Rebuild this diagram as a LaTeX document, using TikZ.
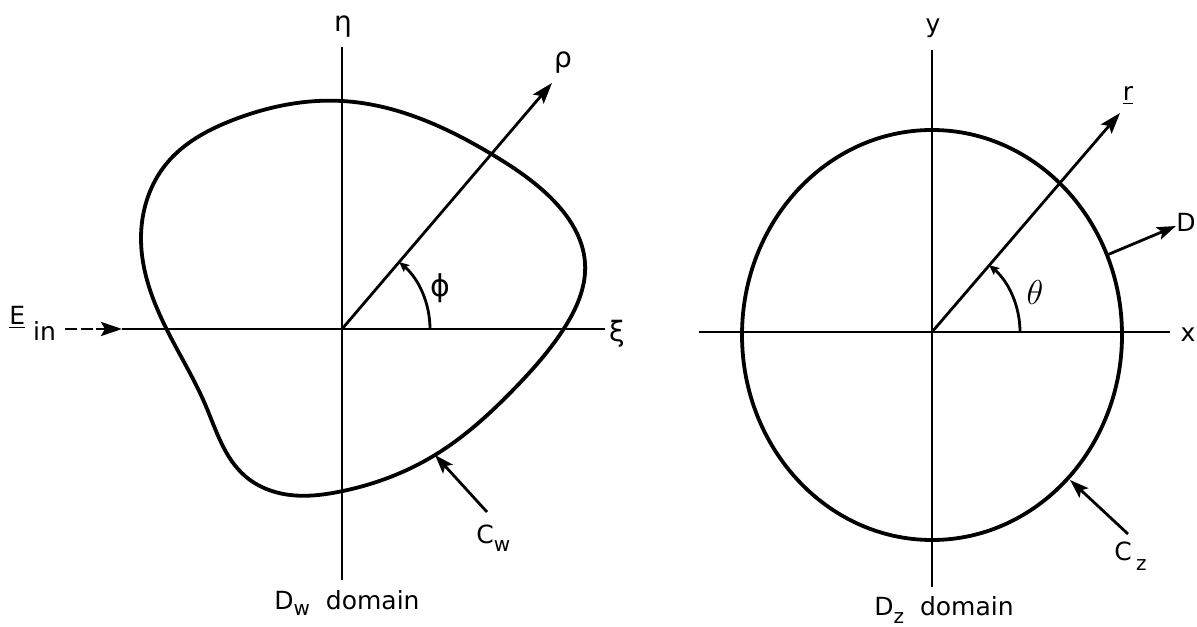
\documentclass[tikz,border=0pt]{standalone}
\usepackage{fontspec}
\setmainfont{DejaVu Sans}
\usetikzlibrary{arrows.meta,hobby}
\begin{document}
\begin{tikzpicture}[x=0.5pt,y=0.5pt,
  curve/.style={line width=1.9pt},
  axis/.style={line width=1.4pt},
  bigtip/.style={-{Stealth[length=10.5pt,width=7pt,inset=2pt]}},
  midtip/.style={-{Stealth[length=9.5pt,width=6.5pt,inset=2pt]}},
  arctip/.style={-{Stealth[length=5pt,width=4.5pt,inset=1pt]}},
  lab/.style={inner sep=0pt,font=\fontsize{12.5}{14}\selectfont},
  greek/.style={inner sep=0pt,font=\fontsize{14}{16}\selectfont}]
\useasboundingbox (0,0) rectangle (1197,626);
% ---------------- left panel ----------------
\coordinate (O1) at (342,297);
\coordinate (etaTop) at (342,579);
\coordinate (etaBot) at (342,46);
\coordinate (xiL) at (122,297);
\coordinate (xiR) at (605,297);
\coordinate (Ein0) at (65,297);
\coordinate (rhoTip) at (552,543);
\coordinate (CwTail) at (487,114);
\coordinate (CwTip) at (435,171);
\draw[axis] (etaBot) -- (etaTop);
\draw[axis] (xiL) -- (xiR);
\draw[axis,dash pattern=on 6pt off 1.8pt,bigtip] (Ein0) -- (xiL);
\draw[axis,bigtip] (O1) -- (rhoTip);
\draw[curve] plot[closed hobby] coordinates {
  (342,525) (493,471) (550,429) (585,363) (563,296) (515,238)
  (435,171) (338,134) (290,131) (245,150) (205,222) (167,296)
  (141,386) (167,463) (233,506)};
\draw[axis,arctip] ([shift={(0:44pt)}]O1) arc[start angle=0,end angle=49.5,radius=44pt];
\draw[axis,midtip] (CwTail) -- (CwTip);
\node[greek] (eta) at (343,599) {η};
\node[greek] (rho) at (563,563) {ρ};
\node[greek,font=\fontsize{15}{16}\selectfont] (phi) at (440,338) {ϕ};
\node[greek] (xi) at (617,292) {ξ};
\node[lab,anchor=west] (Ein) at (9,303) {\underline{E}\hspace{4pt}\raisebox{-8pt}{in}};
\node[lab,anchor=west] (Cw) at (476,88) {C\raisebox{-4pt}{\fontsize{10}{10}\selectfont w}};
\node[lab] (Dw) at (347,23) {D\raisebox{-3pt}{\fontsize{10}{10}\selectfont w}\ \ domain};
% ---------------- right panel ----------------
\coordinate (O2) at (932,294);
\coordinate (yTop) at (932,576);
\coordinate (yBot) at (932,39);
\coordinate (xL) at (699,294);
\coordinate (xR) at (1170,294);
\coordinate (rTip) at (1120,513);
\coordinate (Dfoot) at (1107,371);
\coordinate (DTip) at (1176,400);
\coordinate (CzTail) at (1128,92);
\coordinate (CzTip) at (1070,146);
\draw[axis] (yBot) -- (yTop);
\draw[axis] (xL) -- (xR);
\draw[curve] (932,291) ellipse[x radius=95pt,y radius=102.5pt];
\draw[axis,bigtip] (O2) -- (rTip);
\draw[axis,arctip] ([shift={(0:44pt)}]O2) arc[start angle=0,end angle=49.5,radius=44pt];
\draw[axis,midtip] (Dfoot) -- (DTip);
\draw[axis,midtip] (CzTail) -- (CzTip);
\node[lab] (ylab) at (933,598) {y};
\node[lab] (xlab) at (1188,291) {x};
\node[lab] (rlab) at (1128,530) {\underline{r}};
\node[lab,font=\fontsize{17}{18}\selectfont] (theta) at (1035,333) {$\theta$};
\node[lab,anchor=east] (Dlab) at (1196,404) {D};
\node[lab,anchor=west] (Cz) at (1114,70) {C\,\raisebox{-5pt}{\fontsize{10}{10}\selectfont z}};
\node[lab] (Dz) at (944,16) {D\raisebox{-4pt}{\fontsize{10}{10}\selectfont z}\ \ domain};
\end{tikzpicture}
\end{document}
